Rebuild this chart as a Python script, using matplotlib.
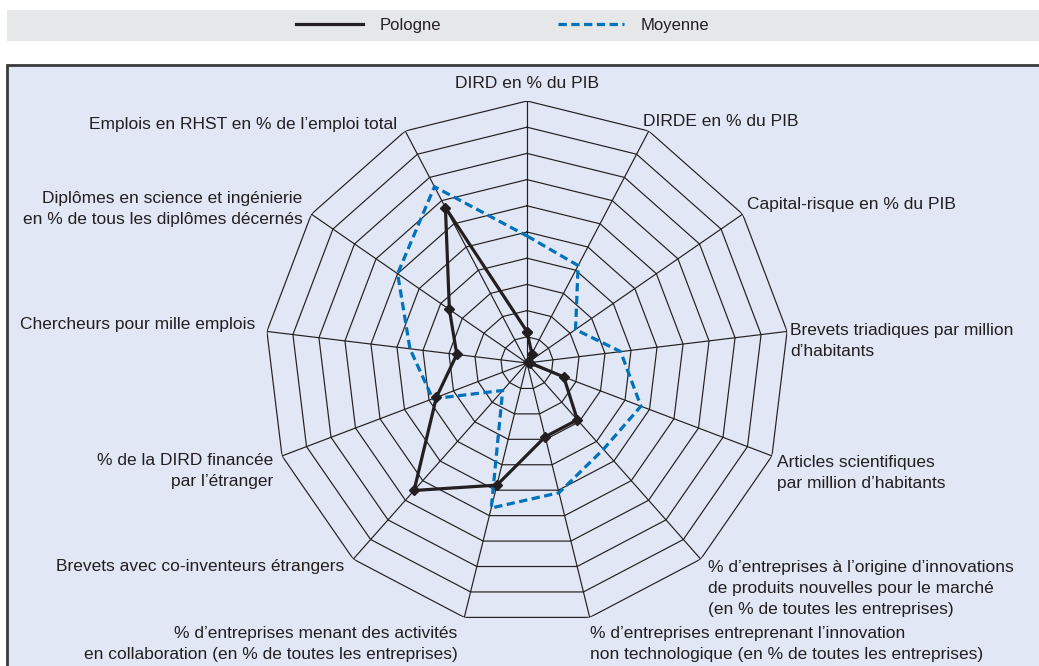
import numpy as np
import matplotlib.pyplot as plt
from matplotlib.patches import Rectangle
from matplotlib.lines import Line2D
from matplotlib import font_manager

# Axis labels (clockwise from top)
labels = [
    "DIRD en % du PIB",
    "DIRDE en % du PIB",
    "Capital-risque en % du PIB",
    "Brevets triadiques par million\nd\u2019habitants",
    "Articles scientifiques\npar million d\u2019habitants",
    "% d\u2019entreprises \u00e0 l\u2019origine d\u2019innovations\nde produits nouvelles pour le march\u00e9\n(en % de toutes les entreprises)",
    "% d\u2019entreprises entreprenant l\u2019innovation\nnon technologique (en % de toutes les entreprises)",
    "% d\u2019entreprises menant des activit\u00e9s\nen collaboration (en % de toutes les entreprises)",
    "Brevets avec co-inventeurs \u00e9trangers",
    "% de la DIRD financ\u00e9e\npar l\u2019\u00e9tranger",
    "Chercheurs pour mille emplois",
    "Dipl\u00f4mes en science et ing\u00e9nierie\nen % de tous les dipl\u00f4mes d\u00e9cern\u00e9s",
    "Emplois en RHST en % de l\u2019emploi total",
]

# normalised scores (0-10)
pologne = [1.2, 0.4, 0.05, 0.1, 1.5, 2.9, 2.9, 4.8, 6.5, 3.7, 2.7, 3.6, 6.7]
moyenne = [4.85, 4.2, 2.25, 3.6, 4.65, 4.4, 5.1, 5.7, 1.4, 3.85, 4.5, 6.0, 7.6]

series_names = ["Pologne", "Moyenne"]

# font: condensed sans if available
names = {f.name for f in font_manager.fontManager.ttflist}
font = "Liberation Sans Narrow" if "Liberation Sans Narrow" in names else "Liberation Sans"
plt.rcParams["font.family"] = [font, "DejaVu Sans"]

W, H = 1039, 666
fig = plt.figure(figsize=(W / 100, H / 100), dpi=100)

# background panel and legend band
fig.patches.append(Rectangle((7 / W, -0.1), 1.1, (H - 65) / H + 0.1, transform=fig.transFigure,
                             facecolor="#E1E7F4", edgecolor="#3a3a3a", linewidth=2.0,
                             clip_on=False, zorder=-10))
fig.patches.append(Rectangle((7 / W, 1 - 41 / H), (W - 7) / W, 31 / H,
                             transform=fig.transFigure, facecolor="#E6E7E8",
                             edgecolor="none", zorder=-10))

cx, cy, R = 527, 363, 262
ax = fig.add_axes([(cx - R) / W, (H - cy - R) / H, 2 * R / W, 2 * R / H], projection="polar")
ax.set_zorder(1)
ax.set_theta_zero_location("N")
ax.set_theta_direction(-1)
ax.set_ylim(0, 10)
ax.patch.set_alpha(0)
ax.grid(False)
ax.spines["polar"].set_visible(False)
ax.set_xticks([])
ax.set_yticks([])

n = len(labels)
theta = np.arange(n) * 2 * np.pi / n
closed = np.append(theta, theta[0])

grid_col = "#231F20"
for r in range(1, 11):
    ax.plot(closed, [r] * (n + 1), color=grid_col, lw=0.85, zorder=1)
for t in theta:
    ax.plot([t, t], [0, 10], color=grid_col, lw=0.85, zorder=1)

pol_style = dict(color="#231F20", lw=2.3)
moy_style = dict(color="#0072BC", lw=2.3, linestyle=(0, (2.6, 1.4)))
ax.plot(closed, pologne + pologne[:1], marker="D", markersize=5, zorder=4, **pol_style)
ax.plot(closed, moyenne + moyenne[:1], zorder=3, **moy_style)

# label placement: offset (px) from each outer vertex, alignment
offsets = [(0, 17, "center"), (-6, 10, "left"), (4, 10, "left"), (3, -10, "left"),
           (5, -17, "left"), (7, -29, "left"), (0, -27, "left"), (-7, -27, "right"),
           (-9, -7, "right"), (-9, -15, "right"), (-12, 7, "right"), (-9, 5, "right"),
           (-8, 7, "right")]
for t, lab, (dx, dy, ha) in zip(theta, labels, offsets):
    ax.annotate(lab, xy=(t, 10), xytext=(dx, dy), textcoords="offset pixels",
                ha=ha, va="center", multialignment=ha, fontsize=12.5,
                color="#231F20", linespacing=1.5, annotation_clip=False)

handles = [Line2D([], [], **pol_style), Line2D([], [], **moy_style)]
fig.legend(handles, series_names, loc="center", bbox_to_anchor=(503 / W, 1 - 25.5 / H),
           ncol=2, frameon=False, fontsize=12, handlelength=4.0, handletextpad=1.0,
           columnspacing=7.0, labelcolor="#231F20")

fig.savefig("out.png", dpi=100)
